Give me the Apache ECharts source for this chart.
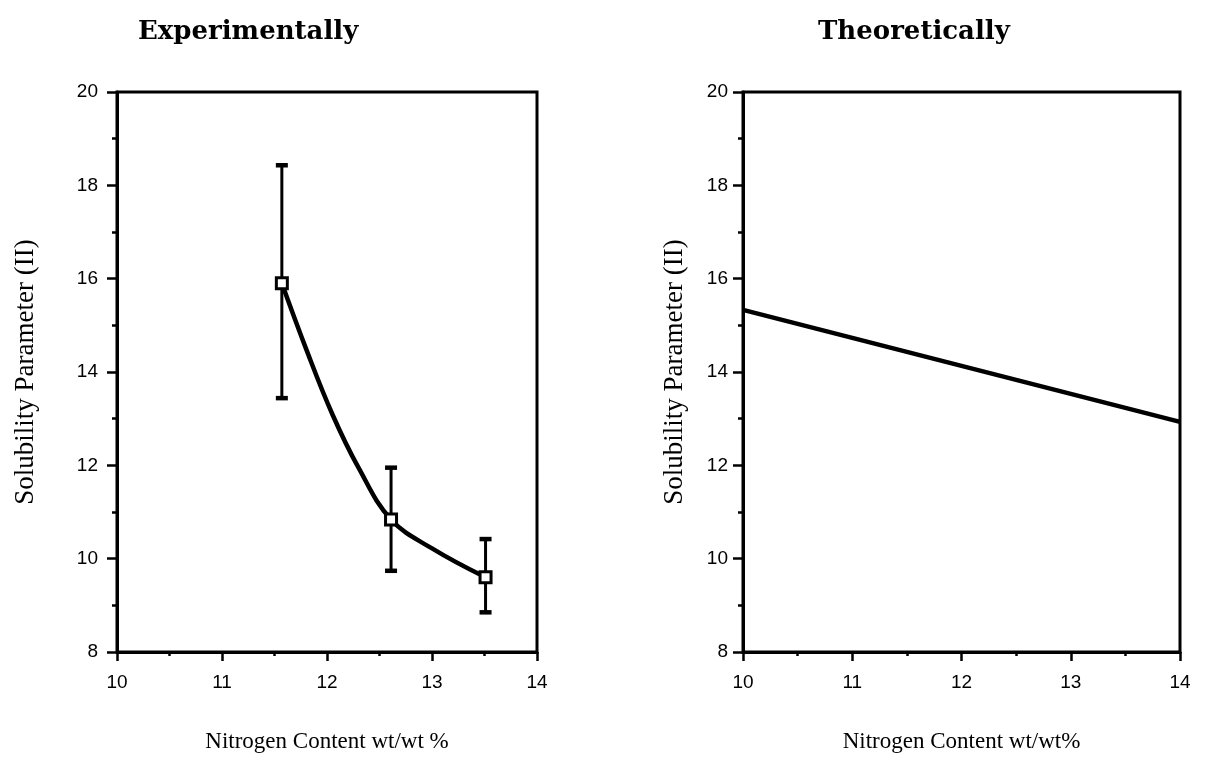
<!DOCTYPE html>
<html>
<head>
<meta charset="utf-8">
<script src="https://cdn.jsdelivr.net/npm/echarts@6/dist/echarts.min.js"></script>
<style>
html,body{margin:0;padding:0;background:#fff;}
#chart{width:1205px;height:769px;}
</style>
</head>
<body>
<div id="chart"></div>
<script>
// ---- data ----
const titles = ['Experimentally', 'Theoretically'];
const xNames = ['Nitrogen Content wt/wt %', 'Nitrogen Content wt/wt%'];
const yName = 'Solubility Parameter (II)';
// measured points with error bars
const expX = [11.57, 12.61, 13.51];
const expY = [15.9, 10.84, 9.6];
const expLow = [13.44, 9.74, 8.85];
const expHigh = [18.43, 11.95, 10.42];
// hand-drawn fitted curve
const curveX = [11.57, 11.8, 12.05, 12.3, 12.61, 13.0, 13.51];
const curveY = [15.9, 14.5, 13.1, 11.95, 10.84, 10.22, 9.6];
// theoretical line
const theoX = [10, 14];
const theoY = [15.33, 12.93];
const xTicks = [10, 11, 12, 13, 14];
const yTicks = [8, 10, 12, 14, 16, 18, 20];

const chart = echarts.init(document.getElementById('chart'), null, {renderer: 'canvas'});

const sansFont = '"Liberation Sans", Arial, sans-serif';
const serifFont = '"Liberation Serif", "Times New Roman", serif';
const titleFont = '"DejaVu Serif", "Liberation Serif", serif';

function xAxis(gridIndex, name) {
  return {
    type: 'value', gridIndex: gridIndex,
    min: xTicks[0], max: xTicks[xTicks.length - 1], interval: 1,
    name: name, nameLocation: 'middle', nameGap: 78,
    nameTextStyle: {fontFamily: serifFont, fontSize: 23, color: '#000'},
    axisLine: {show: true, lineStyle: {color: '#000', width: 3}},
    axisTick: {show: true, inside: false, length: 9, lineStyle: {color: '#000', width: 2.5}},
    minorTick: {show: true, splitNumber: 2, length: 4, lineStyle: {color: '#000', width: 2.5}},
    splitLine: {show: false},
    axisLabel: {fontFamily: sansFont, fontSize: 19, color: '#000', margin: 21}
  };
}
function yAxis(gridIndex) {
  return {
    type: 'value', gridIndex: gridIndex,
    min: yTicks[0], max: yTicks[yTicks.length - 1], interval: 2,
    name: yName, nameLocation: 'middle', nameGap: gridIndex === 0 ? 78 : 55,
    nameTextStyle: {fontFamily: serifFont, fontSize: 27, color: '#000'},
    axisLine: {show: true, lineStyle: {color: '#000', width: 3}},
    axisTick: {show: true, inside: false, length: 10, lineStyle: {color: '#000', width: 2.5}},
    minorTick: {show: true, splitNumber: 2, length: 5, lineStyle: {color: '#000', width: 2.5}},
    splitLine: {show: false},
    axisLabel: {fontFamily: sansFont, fontSize: 19, color: '#000', margin: gridIndex === 0 ? 19 : 15}
  };
}

const errData = expX.map((x, i) => [x, expLow[i], expHigh[i]]);

const option = {
  backgroundColor: '#fff',
  animation: false,
  title: [
    {text: titles[0], left: 133, top: 14,
      textStyle: {fontFamily: titleFont, fontSize: 26, fontWeight: 'bold', color: '#000'}},
    {text: titles[1], left: 813, top: 14,
      textStyle: {fontFamily: titleFont, fontSize: 26, fontWeight: 'bold', color: '#000'}}
  ],
  grid: [
    {left: 117, right: 668, top: 92, bottom: 117, show: true, borderColor: '#000', borderWidth: 3, backgroundColor: 'transparent'},
    {left: 743, right: 25, top: 92, bottom: 117, show: true, borderColor: '#000', borderWidth: 3, backgroundColor: 'transparent'}
  ],
  xAxis: [xAxis(0, xNames[0]), xAxis(1, xNames[1])],
  yAxis: [yAxis(0), yAxis(1)],
  series: [
    {
      type: 'custom', xAxisIndex: 0, yAxisIndex: 0, z: 3,
      data: errData,
      renderItem: function (params, api) {
        const x = api.value(0);
        const lo = api.coord([x, api.value(1)]);
        const hi = api.coord([x, api.value(2)]);
        const cap = 6;
        return {type: 'group', children: [
          {type: 'line', shape: {x1: lo[0], y1: lo[1], x2: hi[0], y2: hi[1]}, style: {stroke: '#000', lineWidth: 3}},
          {type: 'line', shape: {x1: lo[0] - cap, y1: lo[1], x2: lo[0] + cap, y2: lo[1]}, style: {stroke: '#000', lineWidth: 4.5}},
          {type: 'line', shape: {x1: hi[0] - cap, y1: hi[1], x2: hi[0] + cap, y2: hi[1]}, style: {stroke: '#000', lineWidth: 4.5}}
        ]};
      }
    },
    {
      type: 'line', xAxisIndex: 0, yAxisIndex: 0, z: 4,
      data: curveX.map((x, i) => [x, curveY[i]]),
      smooth: 0.4,
      symbol: 'none',
      lineStyle: {color: '#000', width: 4.5}
    },
    {
      type: 'scatter', xAxisIndex: 0, yAxisIndex: 0, z: 5,
      data: expX.map((x, i) => [x, expY[i]]),
      symbol: 'rect', symbolSize: 11,
      itemStyle: {color: '#ffffff', opacity: 1, borderColor: '#000', borderWidth: 3}
    },
    {
      type: 'line', xAxisIndex: 1, yAxisIndex: 1,
      data: theoX.map((x, i) => [x, theoY[i]]),
      symbol: 'none',
      lineStyle: {color: '#000', width: 4.5}
    }
  ]
};
chart.setOption(option);
</script>
</body>
</html>
